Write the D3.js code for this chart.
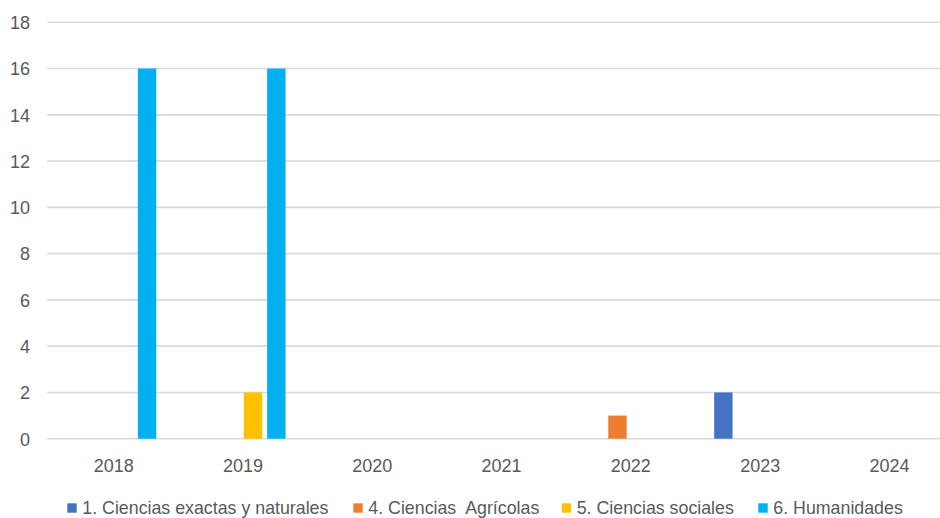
<!DOCTYPE html>
<html>
<head>
<meta charset="utf-8">
<script src="https://cdn.jsdelivr.net/npm/d3@7"></script>
<style>
  html, body { margin: 0; padding: 0; background: #fff; }
  svg { display: block; }
</style>
</head>
<body>
<svg id="chart" width="940" height="518"></svg>
<script>
// ---- data ----
const categories = ["2018", "2019", "2020", "2021", "2022", "2023", "2024"];
const seriesNames = [
  "1. Ciencias exactas y naturales",
  "4. Ciencias  Agrícolas",
  "5. Ciencias sociales",
  "6. Humanidades"
];
const exactasValues     = [0, 0, 0, 0, 0, 2, 0];
const agricolasValues   = [0, 0, 0, 0, 1, 0, 0];
const socialesValues    = [0, 2, 0, 0, 0, 0, 0];
const humanidadesValues = [16, 16, 0, 0, 0, 0, 0];
const yTicks = [0, 2, 4, 6, 8, 10, 12, 14, 16, 18];

const seriesValues = [exactasValues, agricolasValues, socialesValues, humanidadesValues];
const colors = ["#4472C4", "#ED7D31", "#FFC000", "#00B0F0"];

// ---- layout ----
const svg = d3.select("#chart");
const plotLeft = 47.3, step = 129.3;
const plotRight = plotLeft + step * categories.length;
const yTop = 22.3, yBottom = 438.7;
const textColor = "#595959";
const font = "'Liberation Sans', Arial, sans-serif";

const x0 = d3.scaleBand().domain(categories).range([plotLeft, plotRight]).paddingInner(0).paddingOuter(0);
const x1 = d3.scaleBand().domain(d3.range(seriesNames.length)).range([0, x0.bandwidth()])
  .paddingInner(0.2137).paddingOuter(0.8697);
const y = d3.scaleLinear().domain([0, 18]).range([yBottom, yTop]);

// gridlines
svg.append("g").selectAll("line").data(yTicks).join("line")
  .attr("x1", plotLeft).attr("x2", 940)
  .attr("y1", d => y(d)).attr("y2", d => y(d))
  .attr("stroke", "#d9d9d9").attr("stroke-width", 1.6);

// y axis labels
const yAxis = d3.axisLeft(y).tickValues(yTicks).tickSize(0).tickPadding(0);
const gy = svg.append("g").attr("transform", "translate(30,0)").call(yAxis);
gy.select(".domain").remove();
gy.selectAll("text").attr("fill", textColor).style("font-family", font).style("font-size", "18px")
  .attr("dy", "0.35em");

// x axis labels
const xAxis = d3.axisBottom(x0).tickSize(0).tickPadding(0);
const gx = svg.append("g").attr("transform", "translate(1.7,0)").call(xAxis);
gx.select(".domain").remove();
gx.selectAll("text").attr("fill", textColor).style("font-family", font).style("font-size", "18px")
  .attr("y", 472.3).attr("dy", 0);

// bars
seriesValues.forEach((vals, si) => {
  svg.append("g").selectAll("rect").data(vals.map((v, i) => ({ cat: categories[i], v })))
    .join("rect")
    .filter(d => d.v > 0)
    .attr("x", d => x0(d.cat) + x1(si))
    .attr("width", x1.bandwidth())
    .attr("y", d => y(d.v))
    .attr("height", d => y(0) - y(d.v))
    .attr("fill", colors[si]);
});

// legend
const legendStarts = [67.3, 353.3, 561.7, 758.3];
const lg = svg.append("g");
seriesNames.forEach((name, i) => {
  const g = lg.append("g").attr("transform", `translate(${legendStarts[i]},508)`);
  g.append("rect").attr("x", 0).attr("y", -4.7).attr("width", 9.4).attr("height", 9.4).attr("fill", colors[i]);
  g.append("text").attr("x", 15).attr("y", 0).attr("dy", "0.35em")
    .attr("fill", textColor).style("font-family", font).style("font-size", "17.8px")
    .style("white-space", "pre").attr("xml:space", "preserve")
    .text(name);
});
</script>
</body>
</html>
